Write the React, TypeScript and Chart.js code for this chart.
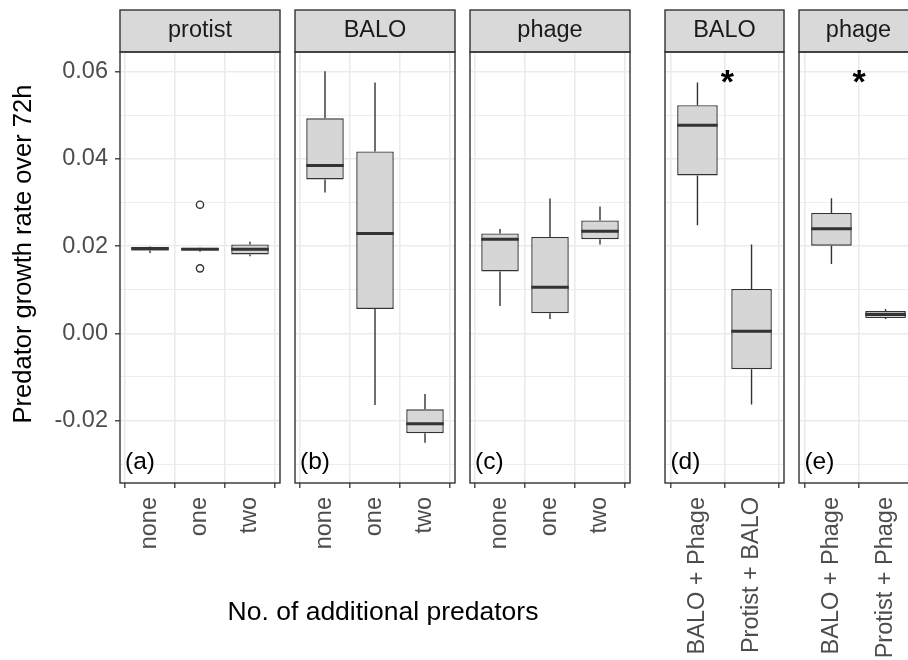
import React, { useEffect, useRef } from 'react';
import { Chart, registerables } from 'chart.js';

Chart.register(...registerables);

// ---------------- data ----------------
const additionalCats = ['none', 'one', 'two'];
const baloPairCats = ['BALO + Phage', 'Protist + BALO'];
const phagePairCats = ['BALO + Phage', 'Protist + Phage'];

// (a) protist
const protistMin = [0.0184, 0.0187, 0.0177];
const protistQ1 = [0.0190, 0.0191, 0.0181];
const protistMed = [0.0194, 0.0193, 0.0193];
const protistQ3 = [0.0198, 0.0196, 0.0204];
const protistMax = [0.0199, 0.0197, 0.0210];
const protistOutlierCat = ['one', 'one'];
const protistOutlierVal = [0.0295, 0.0149];

// (b) BALO
const baloMin = [0.0323, -0.0164, -0.0251];
const baloQ1 = [0.0353, 0.0056, -0.0229];
const baloMed = [0.0385, 0.0229, -0.0207];
const baloQ3 = [0.0493, 0.0417, -0.0174];
const baloMax = [0.0601, 0.0575, -0.0139];

// (c) phage
const phageMin = [0.0063, 0.0033, 0.0204];
const phageQ1 = [0.0142, 0.0046, 0.0216];
const phageMed = [0.0216, 0.0106, 0.0234];
const phageQ3 = [0.0229, 0.0221, 0.0259];
const phageMax = [0.0239, 0.0309, 0.0291];

// (d) BALO pairs
const baloPairMin = [0.0248, -0.0163];
const baloPairQ1 = [0.0362, -0.0082];
const baloPairMed = [0.0477, 0.0005];
const baloPairQ3 = [0.0523, 0.0102];
const baloPairMax = [0.0575, 0.0204];

// (e) phage pairs
const phagePairMin = [0.0159, 0.0033];
const phagePairQ1 = [0.0201, 0.0035];
const phagePairMed = [0.0240, 0.0043];
const phagePairQ3 = [0.0276, 0.0051];
const phagePairMax = [0.0310, 0.0056];

// significance stars (x in category units, y in data units)
const starX = [1.56, 1.52];
const starY = [0.0589, 0.0589];

const yMajorTicks = [-0.02, 0, 0.02, 0.04, 0.06];
const yMinorTicks = [-0.03, -0.01, 0.01, 0.03, 0.05];
const Y_MIN = -0.0343;
const Y_MAX = 0.0645;
const letterY = -0.0311;

const yTitle = 'Predator growth rate over 72h';
const xTitle = 'No. of additional predators';

// ---------------- style ----------------
const FONT = "'Liberation Sans', Arial, Helvetica, sans-serif";
const INK = '#333333';
const GRID = '#ebebeb';
const BOX_FILL = '#d6d6d6';
const STRIP_FILL = '#d9d9d9';
const TICK_TEXT = '#4d4d4d';

const CANVAS_TOP = 8;
const CANVAS_H = 652;
const STRIP_TOP = 2;
const X_AXIS_H = 177;
const X_TITLE_SIZE = 26.5;
const X_TITLE_PAD = 31;
const Y_TITLE_SIZE = 25.5;
const Y_TITLE_PAD = 8.7;

Chart.defaults.font.family = FONT;

type Spec = {
  strip: string;
  letter: string;
  cats: string[];
  min: number[];
  q1: number[];
  med: number[];
  q3: number[];
  max: number[];
  outCat?: string[];
  outVal?: number[];
  star?: { x: number; y: number };
  first?: boolean;
  xTitle?: string;
};

// left: canvas left, w: canvas width, axL / axR: reserved widths left / right of the plot area
type Lay = { left: number; w: number; axL: number; axR: number };

const panels: { spec: Spec; lay: Lay }[] = [
  {
    spec: {
      strip: 'protist', letter: '(a)', cats: additionalCats,
      min: protistMin, q1: protistQ1, med: protistMed, q3: protistQ3, max: protistMax,
      outCat: protistOutlierCat, outVal: protistOutlierVal, first: true,
    },
    lay: { left: 0, w: 292, axL: 120, axR: 12 },
  },
  {
    spec: {
      strip: 'BALO', letter: '(b)', cats: additionalCats,
      min: baloMin, q1: baloQ1, med: baloMed, q3: baloQ3, max: baloMax, xTitle,
    },
    lay: { left: 123, w: 520, axL: 172, axR: 188 },
  },
  {
    spec: {
      strip: 'phage', letter: '(c)', cats: additionalCats,
      min: phageMin, q1: phageQ1, med: phageMed, q3: phageQ3, max: phageMax,
    },
    lay: { left: 467, w: 175, axL: 3, axR: 12 },
  },
  {
    spec: {
      strip: 'BALO', letter: '(d)', cats: baloPairCats,
      min: baloPairMin, q1: baloPairQ1, med: baloPairMed, q3: baloPairQ3, max: baloPairMax,
      star: { x: starX[0], y: starY[0] },
    },
    lay: { left: 662, w: 134, axL: 3, axR: 12 },
  },
  {
    spec: {
      strip: 'phage', letter: '(e)', cats: phagePairCats,
      min: phagePairMin, q1: phagePairQ1, med: phagePairMed, q3: phagePairQ3, max: phagePairMax,
      star: { x: starX[1], y: starY[1] },
    },
    lay: { left: 796, w: 134, axL: 3, axR: 12 },
  },
];

const isMajor = (v: number) => Math.abs(v / 0.02 - Math.round(v / 0.02)) < 1e-6;

const facetPlugin = {
  id: 'facet',
  beforeDraw(chart: any, _a: any, opts: any) {
    const { ctx, chartArea: a } = chart;
    ctx.save();
    ctx.fillStyle = STRIP_FILL;
    ctx.fillRect(a.left, opts.stripTop, a.right - a.left, a.top - opts.stripTop);
    ctx.restore();
  },
  afterDatasetsDraw(chart: any, _a: any, opts: any) {
    const { ctx } = chart;
    const xs = chart.scales.x;
    const ys = chart.scales.y;
    const spec: Spec = opts.spec;
    const bars = chart.getDatasetMeta(0).data;
    ctx.save();
    ctx.strokeStyle = INK;
    ctx.lineCap = 'butt';
    spec.cats.forEach((_c, i) => {
      const px = xs.getPixelForValue(i + 1);
      const half = bars[i] ? bars[i].width / 2 : 18;
      ctx.lineWidth = 1.4;
      ctx.beginPath();
      ctx.moveTo(px, ys.getPixelForValue(spec.max[i]));
      ctx.lineTo(px, ys.getPixelForValue(spec.q3[i]));
      ctx.moveTo(px, ys.getPixelForValue(spec.q1[i]));
      ctx.lineTo(px, ys.getPixelForValue(spec.min[i]));
      ctx.stroke();
      ctx.lineWidth = 3;
      const my = ys.getPixelForValue(spec.med[i]);
      ctx.beginPath();
      ctx.moveTo(px - half, my);
      ctx.lineTo(px + half, my);
      ctx.stroke();
    });
    // panel letter
    ctx.fillStyle = '#000';
    ctx.font = `24.5px ${FONT}`;
    ctx.textAlign = 'left';
    ctx.textBaseline = 'alphabetic';
    ctx.fillText(spec.letter, xs.getPixelForValue(0.5), ys.getPixelForValue(letterY));
    // star
    if (spec.star) {
      ctx.font = `bold 34px ${FONT}`;
      const m = ctx.measureText('*');
      const cx = xs.getPixelForValue(spec.star.x);
      const cy = ys.getPixelForValue(spec.star.y);
      const L = m.actualBoundingBoxLeft;
      const R = m.actualBoundingBoxRight;
      const asc = m.actualBoundingBoxAscent;
      const desc = m.actualBoundingBoxDescent;
      ctx.fillText('*', cx - (R - L) / 2, cy + (asc - desc) / 2);
    }
    ctx.restore();
  },
  afterDraw(chart: any, _a: any, opts: any) {
    const { ctx, chartArea: a } = chart;
    ctx.save();
    ctx.strokeStyle = INK;
    ctx.lineWidth = 1.4;
    ctx.strokeRect(a.left, a.top, a.right - a.left, a.bottom - a.top);
    ctx.strokeRect(a.left, opts.stripTop, a.right - a.left, a.top - opts.stripTop);
    ctx.restore();
  },
};

function makeConfig(spec: Spec, lay: Lay): any {
  const n = spec.cats.length;
  const first = !!spec.first;
  const outCat = spec.outCat || [];
  const outVal = spec.outVal || [];
  const hasXTitle = !!spec.xTitle;
  const xTitleBox = X_TITLE_SIZE * 1.2 + X_TITLE_PAD;
  const xAxisH = X_AXIS_H - (hasXTitle ? xTitleBox : 0);
  return {
    type: 'bar',
    data: {
      datasets: [
        {
          type: 'bar',
          data: spec.cats.map((_c, i) => ({ x: i + 1, y: [spec.q1[i], spec.q3[i]] })),
          backgroundColor: BOX_FILL,
          borderColor: INK,
          borderWidth: 1.4,
          borderSkipped: false,
          categoryPercentage: 1,
          barPercentage: 0.75,
          order: 2,
        },
        {
          type: 'scatter',
          data: outCat.map((c, i) => ({ x: spec.cats.indexOf(c) + 1, y: outVal[i] })),
          pointRadius: 3.6,
          pointBackgroundColor: '#ffffff',
          pointBorderColor: INK,
          pointBorderWidth: 1.4,
          order: 1,
        },
      ],
    },
    options: {
      responsive: false,
      maintainAspectRatio: false,
      animation: false,
      events: [],
      layout: { padding: { top: STRIP_TOP, left: 0, right: 0, bottom: 0 } },
      plugins: {
        legend: { display: false },
        tooltip: { enabled: false },
        title: {
          display: true,
          text: spec.strip,
          color: '#1a1a1a',
          font: { size: 23.5, weight: 'normal', lineHeight: 1.2, family: FONT },
          padding: { top: 6.9, bottom: 6.9 },
          fullSize: false,
        },
        subtitle: {
          display: hasXTitle,
          text: spec.xTitle || '',
          position: 'bottom',
          fullSize: true,
          color: '#000',
          font: { size: X_TITLE_SIZE, weight: 'normal', lineHeight: 1.2, family: FONT },
          padding: { top: 0, bottom: X_TITLE_PAD },
        },
        facet: { spec, stripTop: STRIP_TOP },
      },
      scales: {
        x: {
          type: 'linear',
          min: 0.4,
          max: n + 0.6,
          offset: false,
          afterBuildTicks: (s: any) => {
            s.ticks = spec.cats.map((_c, i) => ({ value: i + 1 }));
          },
          afterFit: (s: any) => {
            s.height = xAxisH;
          },
          ticks: {
            callback: (v: any) => spec.cats[Math.round(Number(v)) - 1] ?? '',
            minRotation: 90,
            maxRotation: 90,
            autoSkip: false,
            padding: 9,
            color: TICK_TEXT,
            font: { size: 23.5, family: FONT },
          },
          grid: {
            color: GRID,
            lineWidth: 1.6,
            drawTicks: true,
            tickLength: 5,
            tickColor: INK,
            tickWidth: 1.3,
          },
          border: { display: false },
        },
        y: {
          type: 'linear',
          position: 'left',
          min: Y_MIN,
          max: Y_MAX,
          afterBuildTicks: (s: any) => {
            s.ticks = [...yMinorTicks, ...yMajorTicks]
              .sort((a, b) => a - b)
              .map((v) => ({ value: v }));
          },
          afterFit: (s: any) => {
            s.width = lay.axL;
          },
          ticks: {
            display: first,
            callback: (v: any) => (isMajor(Number(v)) ? Number(v).toFixed(2) : ''),
            color: TICK_TEXT,
            font: { size: 23.5, family: FONT },
            padding: 7,
          },
          grid: {
            color: GRID,
            lineWidth: (c: any) => (c.tick && !isMajor(c.tick.value) ? 0.9 : 1.6),
            drawTicks: first,
            tickLength: 5,
            tickColor: (c: any) => (c.tick && isMajor(c.tick.value) ? INK : 'rgba(0,0,0,0)'),
            tickWidth: 1.3,
          },
          border: { display: false },
        },
        yRight: {
          type: 'linear',
          position: 'right',
          display: true,
          min: 0,
          max: 1,
          afterFit: (s: any) => {
            s.width = lay.axR;
          },
          ticks: { display: false },
          grid: { display: false, drawTicks: false },
          border: { display: false },
        },
      },
    },
    plugins: [facetPlugin],
  };
}

function Panel({ spec, lay }: { spec: Spec; lay: Lay }) {
  const ref = useRef<HTMLCanvasElement | null>(null);
  useEffect(() => {
    if (!ref.current) return;
    const chart = new Chart(ref.current, makeConfig(spec, lay));
    return () => chart.destroy();
  }, [spec, lay]);
  return (
    <canvas
      ref={ref}
      width={lay.w}
      height={CANVAS_H}
      style={{ position: 'absolute', left: lay.left, top: CANVAS_TOP, width: lay.w, height: CANVAS_H }}
    />
  );
}

// The shared y-axis title, centred like ggplot centres it (on the panel + strip column).
const Y_TITLE_BOX = { left: 0, top: 10, w: 48, h: 488 };

function YTitle() {
  const ref = useRef<HTMLCanvasElement | null>(null);
  useEffect(() => {
    if (!ref.current) return;
    const chart = new Chart(ref.current, {
      type: 'bar',
      data: { labels: [], datasets: [] },
      options: {
        responsive: false,
        maintainAspectRatio: false,
        animation: false,
        events: [],
        layout: { padding: 0 },
        scales: { x: { display: false }, y: { display: false } },
        plugins: {
          legend: { display: false },
          tooltip: { enabled: false },
          title: {
            display: true,
            text: yTitle,
            position: 'left',
            fullSize: true,
            color: '#000',
            font: { size: Y_TITLE_SIZE, weight: 'normal', lineHeight: 1.2, family: FONT },
            padding: { top: Y_TITLE_PAD, bottom: 0 },
          },
        },
      },
    } as any);
    return () => chart.destroy();
  }, []);
  return (
    <canvas
      ref={ref}
      width={Y_TITLE_BOX.w}
      height={Y_TITLE_BOX.h}
      style={{
        position: 'absolute',
        left: Y_TITLE_BOX.left,
        top: Y_TITLE_BOX.top,
        width: Y_TITLE_BOX.w,
        height: Y_TITLE_BOX.h,
      }}
    />
  );
}

export default function App() {
  return (
    <div
      style={{
        position: 'fixed',
        left: 0,
        top: 0,
        width: 908,
        height: 660,
        overflow: 'hidden',
        background: '#ffffff',
      }}
    >
      <YTitle />
      {panels.map((p, i) => (
        <Panel key={i} spec={p.spec} lay={p.lay} />
      ))}
    </div>
  );
}
